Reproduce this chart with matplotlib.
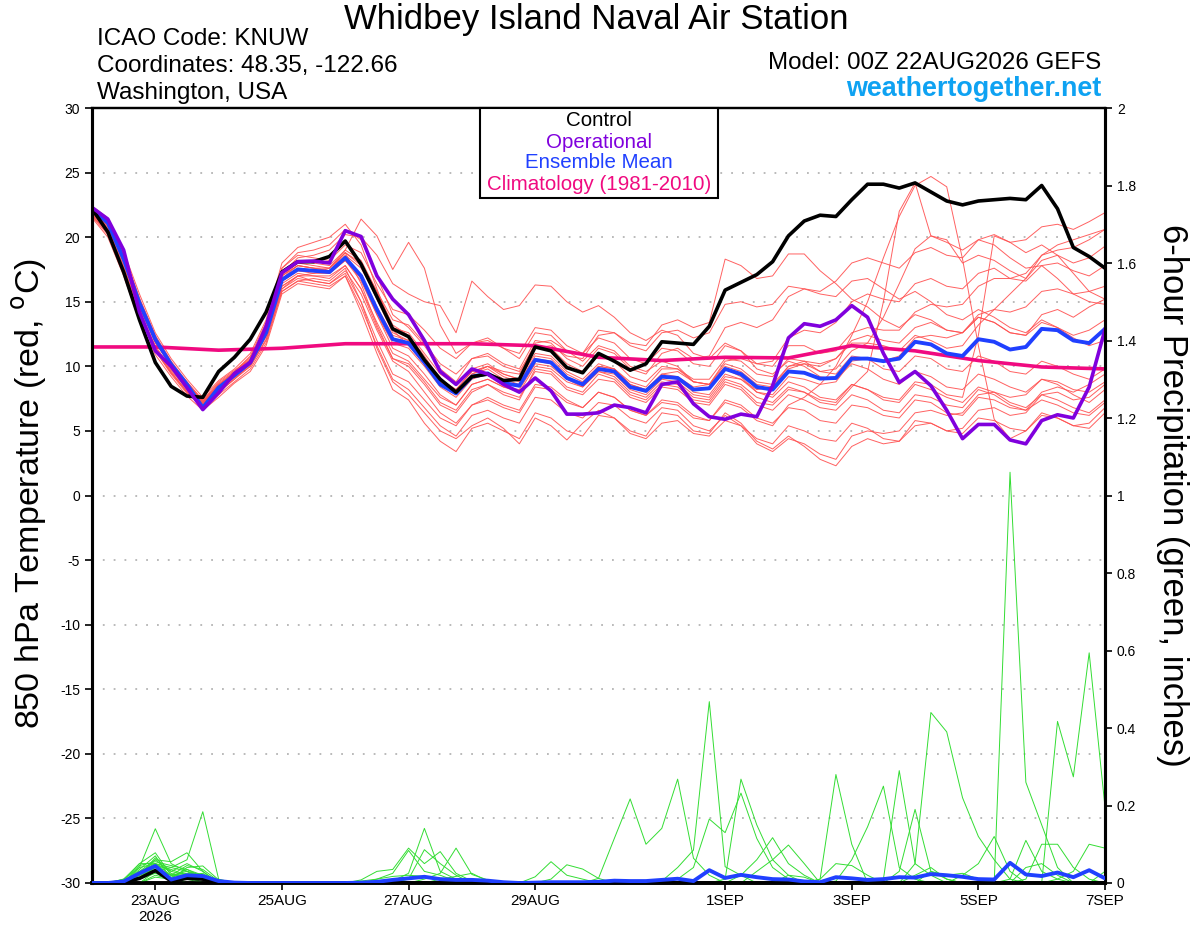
import numpy as np
import matplotlib
matplotlib.use("Agg")
import matplotlib.pyplot as plt
from matplotlib.patches import Rectangle

plt.rcParams['font.family'] = ['Liberation Sans', 'DejaVu Sans']

# ---------------- data (6-hourly from 22AUG2026 00Z) ----------------
tick_days = [1, 3, 5, 7, 10, 12, 14, 16]
tick_labels = ["23AUG\n2026", "25AUG", "27AUG", "29AUG", "1SEP", "3SEP", "5SEP", "7SEP"]

control_t = [22.2, 20.4, 17.3, 13.6, 10.3, 8.45, 7.7, 7.6, 9.6, 10.7, 12.1, 14.2,
             17.3, 18.1, 18.1, 18.5, 19.7, 17.9, 15.4, 12.9, 12.3, 10.5, 9.0, 8.0,
             9.2, 9.4, 8.9, 9.0, 11.5, 11.2, 9.9, 9.5, 11.0, 10.4, 9.7, 10.2,
             11.9, 11.8, 11.7, 13.1, 15.9, 16.5, 17.1, 18.1, 20.1, 21.25, 21.7, 21.6,
             22.9, 24.1, 24.1, 23.8, 24.2, 23.5, 22.8, 22.5, 22.8, 22.9, 23.0, 22.9,
             24.0, 22.2, 19.2, 18.5, 17.6]

oper_t = [22.3, 21.4, 19.0, 14.2, 11.2, 10.0, 8.35, 6.65, 7.95, 9.45, 10.3, 13.1,
          17.25, 18.1, 18.15, 18.0, 20.5, 20.05, 17.0, 15.2, 14.0, 12.0, 9.6, 8.6,
          9.8, 9.4, 8.6, 8.0, 9.1, 8.1, 6.3, 6.3, 6.4, 7.0, 6.8, 6.4,
          8.6, 8.8, 7.1, 6.1, 5.9, 6.3, 6.1, 8.5, 12.2, 13.3, 13.1, 13.6,
          14.7, 13.8, 11.0, 8.75, 9.6, 8.5, 6.6, 4.4, 5.5, 5.5, 4.3, 4.0,
          5.8, 6.25, 6.0, 8.4, 12.85]

mean_t = [22.2, 21.1, 18.3, 14.9, 12.1, 10.15, 8.6, 6.8, 8.35, 9.3, 10.3, 12.6,
          16.7, 17.5, 17.4, 17.3, 18.4, 17.0, 14.4, 12.1, 11.8, 10.3, 8.6, 7.9,
          9.2, 9.45, 8.7, 8.5, 10.5, 10.3, 9.1, 8.6, 9.8, 9.6, 8.4, 8.1,
          9.2, 9.1, 8.2, 8.3, 9.8, 9.4, 8.4, 8.2, 9.6, 9.5, 9.05, 9.1,
          10.6, 10.6, 10.4, 10.6, 11.9, 11.7, 11.0, 10.8, 12.1, 11.9, 11.3, 11.5,
          12.9, 12.8, 12.0, 11.8, 12.9]

# climatology, daily values (day 0 .. 16)
clim_t = [11.5, 11.5, 11.25, 11.4, 11.75, 11.75, 11.75, 11.6, 10.7, 10.45,
          10.7, 10.65, 11.6, 11.2, 10.45, 9.95, 9.8]

members_t = [
    [22.3, 21.3, 18.6, 15.2, 12.3, 10.3, 8.7, 7.2, 8.6, 9.5, 10.6, 13.0,
     17.2, 18.4, 18.6, 19.0, 20.2, 20.0, 18.6, 16.4, 15.6, 15.0, 14.7, 12.6,
     16.6, 15.4, 14.4, 14.7, 16.3, 16.2, 15.0, 14.2, 14.7, 13.8, 12.6, 12.0,
     12.8, 12.4, 11.0, 10.6, 11.8, 11.2, 9.8, 9.4, 10.4, 10.0, 9.2, 9.0,
     10.2, 9.8, 9.0, 8.6, 9.6, 9.2, 8.4, 8.2, 9.4, 9.0, 8.4, 8.0, 9.0, 8.6, 7.8, 7.2, 8.2],
    [22.0, 20.9, 18.0, 14.6, 11.8, 10.1, 8.8, 7.4, 8.8, 9.7, 10.5, 12.4,
     16.0, 17.0, 17.2, 17.6, 19.0, 21.4, 20.1, 17.5, 19.6, 17.6, 13.2, 11.0,
     11.8, 12.0, 11.4, 10.6, 12.6, 12.4, 11.2, 10.4, 11.6, 11.2, 10.0, 9.6,
     10.4, 10.0, 8.8, 8.6, 9.8, 9.2, 8.0, 7.6, 8.8, 8.4, 7.6, 7.4,
     8.6, 8.2, 7.4, 7.2, 8.6, 8.2, 7.6, 7.2, 8.4, 8.0, 7.2, 6.8, 7.8, 7.4, 6.8, 6.4, 7.4],
    [21.9, 20.7, 17.8, 14.3, 11.6, 9.8, 8.3, 6.9, 8.2, 9.2, 10.1, 12.3,
     16.2, 17.0, 16.6, 16.4, 17.4, 15.6, 12.8, 10.4, 9.6, 8.0, 6.4, 5.6,
     7.0, 7.6, 7.0, 6.6, 8.6, 8.4, 7.4, 6.8, 8.0, 7.6, 6.6, 6.2,
     7.4, 7.2, 6.2, 5.8, 7.2, 6.8, 5.8, 5.4, 7.0, 7.6, 8.6, 10.0,
     12.4, 15.0, 18.4, 21.6, 24.0, 24.7, 23.9, 18.3, 11.6, 5.9, 4.4, 5.0, 6.4, 6.0, 5.4, 5.6, 6.8],
    [22.1, 21.0, 18.2, 14.8, 12.0, 10.0, 8.4, 6.8, 8.0, 9.0, 10.2, 12.8,
     17.0, 18.0, 17.8, 17.6, 18.8, 16.4, 13.2, 10.6, 10.0, 8.6, 7.0, 6.4,
     8.0, 8.6, 7.8, 7.4, 9.8, 9.6, 8.4, 8.0, 9.4, 9.0, 7.8, 7.4,
     8.6, 8.4, 7.4, 7.2, 8.8, 8.4, 7.2, 7.0, 8.2, 8.0, 7.2, 7.0,
     8.4, 9.6, 15.0, 22.0, 24.2, 20.1, 19.8, 18.0, 18.6, 18.2, 17.4, 16.8, 18.2, 18.6, 18.0, 18.4, 19.3],
    [21.6, 20.2, 17.2, 13.8, 11.2, 9.4, 7.9, 7.0, 8.5, 9.6, 10.8, 13.4,
     17.6, 18.8, 19.0, 19.4, 20.6, 19.8, 17.0, 14.0, 13.0, 11.6, 9.8, 8.8,
     10.6, 11.0, 10.2, 9.8, 12.0, 11.8, 10.6, 10.0, 11.4, 11.0, 9.8, 9.4,
     11.0, 11.4, 10.6, 10.8, 13.0, 13.4, 13.0, 13.6, 15.4, 16.0, 15.8, 16.6,
     18.0, 18.4, 18.0, 17.6, 18.8, 19.2, 18.6, 18.4, 19.8, 20.2, 19.6, 19.8, 20.8, 21.0, 20.6, 21.2, 21.9],
    [22.4, 21.5, 18.9, 15.6, 12.6, 10.6, 9.0, 7.6, 8.9, 9.8, 11.0, 13.6,
     18.0, 19.2, 19.6, 20.0, 21.0, 19.4, 16.0, 12.8, 11.6, 10.2, 8.6, 7.8,
     9.4, 10.0, 9.4, 9.0, 11.4, 11.6, 10.8, 10.6, 12.4, 12.6, 11.8, 11.6,
     13.2, 13.6, 13.0, 13.4, 18.3, 17.8, 16.8, 17.0, 18.7, 18.7, 17.4, 16.4,
     15.2, 14.6, 13.6, 13.0, 14.0, 13.6, 12.8, 12.6, 13.8, 13.4, 12.6, 12.4, 14.0, 14.4, 13.8, 14.6, 15.2],
    [21.5, 20.0, 17.0, 13.5, 10.9, 9.2, 7.7, 6.6, 7.6, 8.7, 9.6, 11.6,
     15.6, 16.4, 16.2, 16.0, 17.0, 14.2, 11.0, 8.2, 7.4, 5.6, 4.2, 3.4,
     5.2, 5.6, 5.0, 4.4, 6.4, 6.0, 5.0, 4.6, 6.2, 6.0, 5.0, 4.6,
     6.4, 6.2, 5.0, 4.8, 6.4, 5.6, 4.2, 3.6, 4.6, 3.8, 2.8, 2.3,
     3.8, 4.4, 4.0, 4.2, 5.8, 5.6, 5.0, 5.2, 6.6, 6.8, 6.2, 6.4, 7.8, 8.0, 7.4, 7.6, 8.6],
    [21.8, 20.5, 17.5, 14.0, 11.4, 9.6, 8.0, 6.7, 7.8, 8.8, 9.8, 11.8,
     15.8, 16.6, 16.8, 16.6, 17.6, 15.0, 11.4, 8.8, 7.8, 6.4, 5.0, 4.4,
     5.4, 6.0, 5.2, 4.0, 6.0, 5.4, 4.3, 5.6, 6.6, 6.0, 4.8, 4.4,
     5.6, 5.8, 4.8, 4.6, 5.8, 5.4, 4.4, 4.0, 5.4, 5.0, 4.4, 4.2,
     5.6, 5.2, 4.4, 4.2, 5.4, 5.6, 5.0, 4.8, 6.0, 5.8, 5.2, 5.0, 6.2, 6.0, 5.4, 5.2, 6.4],
    [22.2, 21.2, 18.4, 15.0, 12.2, 10.2, 8.6, 7.2, 8.4, 9.4, 10.4, 12.8,
     16.8, 17.8, 17.6, 17.4, 18.6, 17.6, 15.4, 13.0, 12.6, 11.0, 9.4, 8.6,
     9.8, 10.2, 9.4, 9.0, 11.0, 10.8, 9.6, 9.0, 10.2, 9.8, 8.6, 8.2,
     9.4, 9.2, 8.4, 8.6, 10.4, 10.6, 10.2, 10.4, 12.2, 12.8, 12.6, 13.4,
     15.0, 15.6, 15.2, 15.0, 16.4, 16.8, 16.2, 16.0, 17.2, 17.6, 16.8, 16.6, 17.8, 18.0, 17.4, 17.0, 17.8],
    [22.0, 20.8, 18.0, 14.6, 11.9, 10.0, 8.5, 7.0, 8.3, 9.2, 10.2, 12.4,
     16.4, 17.2, 17.0, 16.8, 17.8, 16.0, 13.0, 10.6, 10.2, 8.8, 7.2, 6.6,
     8.2, 8.6, 8.0, 7.6, 9.6, 9.4, 8.2, 7.8, 9.0, 8.8, 7.6, 7.2,
     8.4, 8.2, 7.2, 7.0, 8.6, 8.2, 7.0, 6.6, 7.8, 7.4, 6.8, 6.6,
     7.8, 7.4, 6.6, 6.4, 7.8, 7.6, 7.0, 6.8, 8.2, 7.8, 7.0, 6.6, 7.4, 7.0, 6.4, 6.2, 7.2],
    [22.3, 21.2, 18.5, 15.1, 12.2, 10.3, 8.7, 7.3, 8.6, 9.5, 10.5, 12.9,
     17.4, 18.2, 18.0, 17.8, 19.0, 18.2, 15.8, 13.2, 12.4, 10.8, 9.0, 8.2,
     9.6, 10.0, 9.2, 8.8, 10.8, 10.6, 9.4, 8.8, 10.0, 9.8, 8.6, 8.2,
     9.4, 9.6, 8.8, 8.6, 10.0, 9.6, 8.6, 8.4, 9.8, 10.2, 9.6, 9.8,
     11.2, 11.8, 11.6, 11.2, 12.4, 12.0, 11.4, 11.6, 13.2, 14.4, 15.6, 16.8, 18.6, 19.4, 19.8, 20.2, 20.6],
    [21.7, 20.4, 17.4, 14.0, 11.3, 9.5, 8.1, 6.9, 8.2, 9.3, 10.4, 12.6,
     16.6, 17.4, 17.2, 17.2, 18.2, 16.8, 14.0, 11.4, 10.8, 9.4, 7.8, 7.0,
     8.6, 9.0, 8.4, 8.0, 10.0, 9.8, 8.8, 8.4, 9.6, 9.2, 8.0, 7.6,
     8.8, 8.6, 7.6, 7.4, 9.0, 8.6, 7.6, 7.2, 8.4, 8.0, 7.4, 7.2,
     8.6, 8.2, 7.6, 7.4, 8.8, 8.6, 7.8, 7.6, 12.4, 20.1, 19.6, 18.8, 19.4, 18.6, 17.2, 15.8, 15.2],
    [22.1, 21.0, 18.3, 14.9, 12.1, 10.2, 8.6, 7.1, 8.4, 9.4, 10.4, 12.7,
     17.0, 17.8, 17.6, 17.4, 18.8, 17.8, 15.2, 12.6, 12.0, 10.6, 9.0, 8.2,
     9.6, 10.0, 9.6, 9.4, 11.8, 12.0, 11.2, 11.0, 12.8, 12.6, 11.6, 11.2,
     12.6, 12.8, 12.2, 12.6, 14.8, 15.0, 14.6, 14.8, 16.2, 16.0, 15.6, 15.4,
     16.6, 16.8, 16.0, 15.2, 15.8, 15.0, 14.0, 13.6, 14.4, 13.8, 13.0, 12.6, 13.6, 13.0, 12.4, 12.8, 13.6],
    [21.9, 20.6, 17.7, 14.2, 11.5, 9.7, 8.2, 6.8, 8.0, 9.0, 10.0, 12.0,
     16.0, 16.8, 16.6, 16.4, 17.2, 15.0, 12.0, 9.4, 8.8, 7.4, 6.0, 5.4,
     7.0, 7.4, 6.8, 6.4, 8.4, 8.2, 7.2, 6.8, 8.0, 7.6, 6.6, 6.2,
     7.2, 7.0, 6.0, 5.8, 7.4, 7.0, 6.0, 5.6, 6.8, 6.6, 5.8, 5.6,
     7.0, 6.8, 6.2, 6.0, 7.4, 7.2, 6.4, 6.2, 7.6, 7.4, 6.8, 6.6, 8.0, 8.4, 8.0, 8.6, 9.4],
    [22.2, 21.0, 18.1, 14.7, 11.9, 10.1, 8.5, 7.0, 8.4, 9.3, 10.3, 12.5,
     16.6, 17.4, 17.4, 17.2, 18.4, 17.0, 14.6, 12.4, 12.0, 10.4, 8.8, 8.0,
     9.4, 9.8, 9.0, 8.6, 10.6, 10.4, 9.2, 8.6, 9.8, 9.6, 8.4, 8.0,
     9.2, 9.0, 8.0, 7.8, 9.4, 9.0, 8.0, 7.8, 9.2, 9.0, 8.6, 8.8,
     10.4, 10.6, 10.4, 10.8, 12.2, 12.4, 12.2, 12.6, 14.0, 14.4, 14.2, 14.6, 15.8, 16.0, 15.6, 15.8, 16.2],
    [22.0, 20.9, 18.1, 14.7, 11.9, 10.0, 8.5, 7.1, 8.3, 9.2, 10.2, 12.4,
     16.2, 17.0, 17.0, 17.0, 17.8, 16.0, 13.4, 11.0, 10.4, 9.0, 7.6, 7.0,
     8.6, 9.0, 8.4, 8.2, 10.2, 10.0, 9.0, 8.6, 10.0, 9.8, 8.8, 8.4,
     9.8, 9.8, 9.0, 9.0, 10.6, 10.4, 9.4, 9.2, 10.6, 10.4, 9.6, 9.4,
     10.8, 10.6, 9.8, 9.6, 10.8, 10.6, 9.8, 9.6, 10.8, 10.4, 9.6, 9.4, 10.4, 10.0, 9.4, 9.0, 9.8],
    [22.2, 21.1, 18.4, 15.0, 12.1, 10.1, 8.6, 7.1, 8.5, 9.4, 10.4, 12.6,
     16.8, 17.6, 17.4, 17.2, 18.2, 16.6, 14.0, 11.8, 11.4, 10.0, 8.4, 7.6,
     9.0, 9.4, 8.8, 8.4, 10.4, 10.2, 9.0, 8.4, 9.6, 9.4, 8.2, 7.8,
     9.0, 8.8, 7.8, 7.6, 9.2, 9.0, 8.2, 8.4, 10.0, 10.2, 10.0, 10.6,
     11.8, 11.8, 13.8, 16.4, 19.1, 20.1, 19.6, 19.0, 19.8, 19.4, 18.4, 17.6, 17.8, 16.8, 15.6, 15.0, 14.8],
    [21.7, 20.3, 17.3, 13.9, 11.2, 9.5, 8.0, 6.9, 8.1, 9.1, 10.0, 12.1,
     15.8, 16.6, 16.4, 16.2, 17.0, 14.6, 11.6, 9.0, 8.2, 6.8, 5.4, 4.6,
     6.2, 6.6, 6.0, 5.6, 7.6, 7.4, 6.4, 6.0, 7.2, 7.0, 6.0, 5.6,
     6.8, 6.6, 5.4, 5.0, 6.2, 5.4, 4.0, 3.4, 4.4, 4.0, 3.2, 2.8,
     4.6, 5.0, 4.8, 5.0, 6.4, 6.6, 6.2, 6.4, 7.8, 8.0, 7.6, 7.8, 9.0, 8.8, 8.2, 8.0, 8.8],
    [22.1, 21.1, 18.3, 14.9, 12.1, 10.2, 8.7, 7.2, 8.5, 9.4, 10.4, 12.7,
     17.0, 17.8, 17.6, 17.6, 18.8, 18.0, 15.8, 13.6, 13.2, 11.8, 10.2, 9.4,
     10.6, 10.8, 10.0, 9.6, 11.6, 11.4, 10.2, 9.6, 10.8, 10.4, 9.2, 8.8,
     10.0, 9.8, 8.8, 8.6, 10.2, 9.8, 8.8, 8.6, 10.0, 10.4, 10.2, 10.6,
     12.0, 12.4, 12.0, 11.8, 13.0, 13.4, 12.8, 12.6, 13.8, 13.4, 12.6, 12.4, 13.4, 13.0, 12.2, 11.6, 12.0],
    [22.3, 21.4, 18.7, 15.3, 12.4, 10.4, 8.8, 7.3, 8.7, 9.6, 10.7, 13.2,
     17.6, 18.6, 18.4, 18.2, 19.4, 18.8, 16.4, 14.4, 14.0, 12.8, 11.4, 10.6,
     11.8, 12.2, 11.4, 11.0, 13.0, 12.8, 11.6, 11.0, 12.2, 11.8, 10.6, 10.2,
     11.4, 11.2, 10.2, 10.0, 11.6, 11.2, 10.2, 10.0, 11.6, 11.6, 11.0, 11.2,
     12.6, 13.0, 12.8, 12.8, 14.2, 14.8, 14.6, 14.8, 16.2, 16.8, 16.8, 17.2, 18.6, 19.0, 19.2, 19.8, 20.6],
]

mean_p = [0, 0, 0.004, 0.025, 0.044, 0.009, 0.02, 0.018, 0.005, 0.001, 0, 0,
          0, 0, 0, 0, 0, 0.001, 0.003, 0.008, 0.012, 0.016, 0.01, 0.008,
          0.008, 0.006, 0.002, 0, 0.001, 0.002, 0.002, 0.002, 0.003, 0.006, 0.005, 0.005,
          0.008, 0.011, 0.005, 0.033, 0.013, 0.021, 0.015, 0.01, 0.009, 0.004, 0.002, 0.015,
          0.012, 0.008, 0.01, 0.015, 0.014, 0.023, 0.02, 0.016, 0.01, 0.009, 0.052, 0.022,
          0.018, 0.027, 0.015, 0.033, 0.012]

control_p = [0, 0, 0.002, 0.012, 0.032, 0.005, 0.012, 0.01, 0.0, 0, 0, 0,
             0, 0, 0, 0, 0, 0, 0, 0, 0, 0, 0, 0,
             0, 0, 0, 0, 0, 0, 0, 0, 0, 0, 0, 0,
             0, 0, 0, 0, 0, 0, 0, 0, 0, 0, 0, 0,
             0, 0, 0, 0, 0, 0, 0, 0, 0, 0, 0, 0,
             0, 0, 0, 0, 0]

# member precipitation: {6-hour step: inches}, all other steps zero
members_p = [
    {2: 0.01, 3: 0.04, 4: 0.14, 5: 0.05, 6: 0.03, 7: 0.01,
     52: 0.05, 53: 0.44, 54: 0.39, 55: 0.22, 56: 0.12, 57: 0.06, 58: 0.01},
    {3: 0.03, 4: 0.05, 5: 0.04, 6: 0.06, 7: 0.184, 8: 0.01,
     36: 0.005, 37: 0.04, 38: 0.085, 39: 0.468, 40: 0.042, 41: 0.02,
     58: 1.06, 59: 0.26, 60: 0.15, 61: 0.04},
    {2: 0.005, 3: 0.05, 4: 0.078, 5: 0.02, 6: 0.02, 7: 0.01,
     32: 0.012, 33: 0.115, 34: 0.217, 35: 0.10, 36: 0.141, 37: 0.268, 38: 0.064, 39: 0.02},
    {3: 0.02, 4: 0.06, 5: 0.055, 6: 0.078, 7: 0.03,
     37: 0.01, 38: 0.04, 39: 0.165, 40: 0.13, 41: 0.232, 42: 0.115, 43: 0.04, 44: 0.01},
    {3: 0.035, 4: 0.07, 5: 0.01, 6: 0.04, 7: 0.044, 8: 0.008,
     17: 0.008, 18: 0.03, 19: 0.035, 20: 0.09, 21: 0.05, 22: 0.081, 23: 0.025, 24: 0.005,
     40: 0.01, 41: 0.268, 42: 0.15, 43: 0.06, 44: 0.02},
    {2: 0.01, 3: 0.05, 4: 0.05, 5: 0.02, 6: 0.025, 7: 0.02,
     18: 0.01, 19: 0.025, 20: 0.084, 21: 0.03, 22: 0.02, 23: 0.005,
     41: 0.02, 42: 0.06, 43: 0.117, 44: 0.05, 45: 0.02},
    {3: 0.015, 4: 0.04, 5: 0.005, 6: 0.01, 7: 0.01,
     19: 0.005, 20: 0.025, 21: 0.141, 22: 0.03, 23: 0.01,
     42: 0.03, 43: 0.06, 44: 0.098, 45: 0.05},
    {3: 0.02, 4: 0.065, 5: 0.03, 6: 0.05, 7: 0.03,
     20: 0.01, 21: 0.086, 22: 0.05, 23: 0.02,
     46: 0.01, 47: 0.28, 48: 0.10},
    {2: 0.005, 3: 0.03, 4: 0.03, 5: 0.04, 6: 0.03, 7: 0.02,
     21: 0.01, 22: 0.025, 23: 0.09, 24: 0.022, 25: 0.008,
     28: 0.016, 29: 0.055, 30: 0.02, 31: 0.01},
    {3: 0.01, 4: 0.025, 5: 0.01, 6: 0.015,
     22: 0.01, 23: 0.017, 24: 0.025, 25: 0.005,
     29: 0.01, 30: 0.047, 31: 0.036, 32: 0.012},
    {3: 0.045, 4: 0.055, 5: 0.045, 6: 0.035, 7: 0.015,
     17: 0.005, 18: 0.01, 19: 0.017, 20: 0.02, 21: 0.017, 22: 0.01,
     47: 0.005, 48: 0.06, 49: 0.145, 50: 0.25, 51: 0.04, 52: 0.01},
    {4: 0.02, 5: 0.01, 6: 0.02, 7: 0.025,
     50: 0.01, 51: 0.29, 52: 0.05, 53: 0.02},
    {3: 0.02, 4: 0.035, 5: 0.02, 6: 0.03, 7: 0.015,
     51: 0.03, 52: 0.19, 53: 0.03, 54: 0.01},
    {3: 0.025, 4: 0.045, 5: 0.035, 6: 0.02,
     55: 0.02, 56: 0.05, 57: 0.12, 58: 0.03},
    {4: 0.03, 5: 0.02, 6: 0.045, 7: 0.035, 8: 0.005,
     58: 0.01, 59: 0.11, 60: 0.03, 61: 0.01},
    {3: 0.03, 4: 0.06, 5: 0.025, 6: 0.01,
     59: 0.01, 60: 0.10, 61: 0.10, 62: 0.04, 63: 0.01},
    {3: 0.01, 4: 0.03, 5: 0.015, 6: 0.035, 7: 0.02,
     61: 0.01, 62: 0.03, 63: 0.10, 64: 0.09},
    {3: 0.04, 4: 0.05, 5: 0.03, 6: 0.02,
     60: 0.0, 61: 0.417, 62: 0.274, 63: 0.594, 64: 0.196},
    {4: 0.015, 5: 0.01, 6: 0.02,
     46: 0.01, 47: 0.05, 48: 0.045, 49: 0.02, 53: 0.03, 54: 0.02, 55: 0.025, 56: 0.01},
    {3: 0.02, 4: 0.04, 5: 0.02,
     44: 0.02, 45: 0.015, 52: 0.02, 53: 0.04, 54: 0.01, 59: 0.04, 60: 0.05, 61: 0.02, 64: 0.03},
]

# ---------------- figure ----------------
W, H = 1200, 927
fig = plt.figure(figsize=(W / 100, H / 100), dpi=100)

def fx(px):
    return px / W

def fy(py):
    return 1 - py / H

L, R, T, B = 92, 1105, 108, 883
ax = fig.add_axes([fx(L), fy(B), fx(R) - fx(L), fy(T) - fy(B)])

n = len(mean_t)
days = np.arange(n) * 0.25
clim_days = np.arange(len(clim_t))

for yv in range(-25, 30, 5):
    ax.axhline(yv, color='#b4b4b4', lw=1.3, ls=(0, (1, 5)), zorder=1)

for m in members_t:
    ax.plot(days, m, color='#ff5050', lw=0.7, alpha=0.9, zorder=2)

ax.plot(clim_days, clim_t, color='#f00a80', lw=2.6, zorder=4)
ax.plot(days, mean_t, color='#2040ff', lw=2.8, zorder=5)
ax.plot(days, control_t, color='black', lw=2.6, zorder=6)
ax.plot(days, oper_t, color='#8000dd', lw=2.6, zorder=7)

ax.set_xlim(0, 16)
ax.set_ylim(-30, 30)
ax.set_yticks(range(-30, 31, 5))
ax.set_yticklabels([str(v) for v in range(-30, 31, 5)])
ax.set_xticks(tick_days)
ax.set_xticklabels(tick_labels)
ax.tick_params(axis='y', labelsize=10, direction='out', length=5, width=1.2)
ax.tick_params(axis='x', labelsize=11, direction='out', length=5, width=1.2, pad=3)

ax2 = ax.twinx()
ax2.set_ylim(0, 2)
ax2.set_xlim(0, 16)
for mp in members_p:
    arr = np.zeros(n)
    for k, v in mp.items():
        arr[k] = v
    ax2.plot(days, arr, color='#33dd33', lw=0.7, zorder=2)
ax2.plot(days, control_p, color='black', lw=2.6, zorder=4)
ax2.plot(days, mean_p, color='#2040ff', lw=2.8, zorder=5)
rticks = [round(0.2 * k, 1) for k in range(11)]
ax2.set_yticks(rticks)
ax2.set_yticklabels(['0', '0.2', '0.4', '0.6', '0.8', '1', '1.2', '1.4', '1.6', '1.8', '2'])
ax2.tick_params(axis='y', labelsize=10, direction='out', length=5, width=1.2)

for a in (ax, ax2):
    a.spines['left'].set_linewidth(2.2)
    a.spines['right'].set_linewidth(2.2)
    a.spines['bottom'].set_linewidth(2.6)
    a.spines['top'].set_linewidth(1.6)

fig.text(fx(30), fy(493), '850 hPa Temperature (red, $^{\\rm o}$C)', rotation=90,
         ha='center', va='center', fontsize=24.5)
fig.text(fx(1172), fy(495), '6-hour Precipitation (green, inches)', rotation=-90,
         ha='center', va='center', fontsize=25)

# header
fig.text(fx(596), fy(19), 'Whidbey Island Naval Air Station', ha='center', va='center', fontsize=25)
fig.text(fx(97), fy(39), 'ICAO Code: KNUW', ha='left', va='center', fontsize=17.5)
fig.text(fx(97), fy(66), 'Coordinates: 48.35, -122.66', ha='left', va='center', fontsize=17.5)
fig.text(fx(97), fy(93), 'Washington, USA', ha='left', va='center', fontsize=17.5)
fig.text(fx(1101), fy(63), 'Model: 00Z 22AUG2026 GEFS', ha='right', va='center', fontsize=17.4)
fig.text(fx(1101), fy(89), 'weathertogether.net', ha='right', va='center', fontsize=19.4,
         weight='bold', color='#0ea2f2')

# legend box
bx0, bx1, by0, by1 = 480, 718, 108, 198
fig.add_artist(Rectangle((fx(bx0), fy(by1)), fx(bx1) - fx(bx0), fy(by0) - fy(by1),
                         transform=fig.transFigure, facecolor='white', edgecolor='black',
                         lw=1.5, zorder=20))
leg = [('Control', 'black', 121), ('Operational', '#8000dd', 142),
       ('Ensemble Mean', '#2040ff', 163), ('Climatology (1981-2010)', '#f00a80', 185)]
for txt, col, yy in leg:
    fig.text(fx(599), fy(yy), txt, ha='center', va='center', fontsize=14.8, color=col, zorder=21)

fig.savefig('out.png', dpi=100)
